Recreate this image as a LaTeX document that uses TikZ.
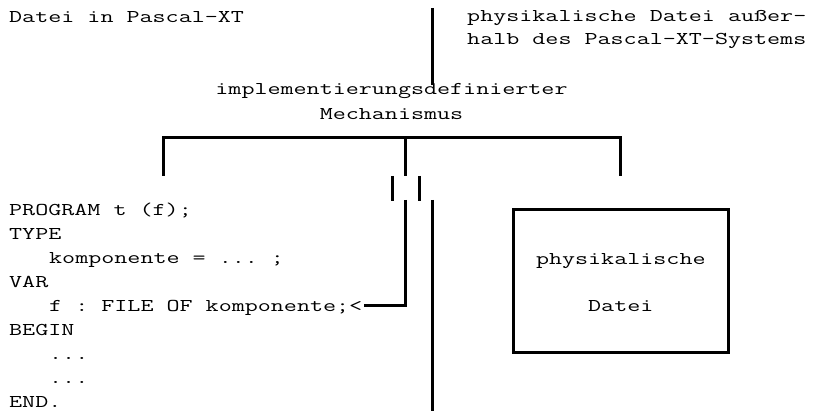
\documentclass[tikz,border=0pt]{standalone}
\usepackage{fontspec}
\newfontfamily\cf[FakeStretch=1.407]{Latin Modern Mono}
\begin{document}
\begin{tikzpicture}[x=1pt,y=-1pt,
  wire/.style={line width=3pt},
  txt/.style={font={\cf\fontsize{18}{24}\selectfont\frenchspacing}, inner sep=0pt, anchor=base west},
  ctxt/.style={txt, anchor=base}]
\useasboundingbox (0,0) rectangle (816,414);

% texts at the top
\node[txt] (title) at (9,23) {Datei in Pascal-XT};
\node[txt] (phys1) at (467,22) {physikalische Datei außer-};
\node[txt] (phys2) at (467,45) {halb des Pascal-XT-Systems};
\node[ctxt] (impl) at (391.5,95) {implementierungsdefinierter};
\node[ctxt] (mech) at (391.5,120) {Mechanismus};

% program text
\node[txt] (l1) at (9,215) {PROGRAM t (f);};
\node[txt] (l2) at (9,239) {TYPE};
\node[txt] (l3) at (49,263) {komponente = ... ;};
\node[txt] (l4) at (9,287) {VAR};
\node[txt] (l5) at (49,311) {f : FILE OF komponente;<};
\node[txt] (l6) at (9,335) {BEGIN};
\node[txt] (l7) at (49,359) {...};
\node[txt] (l8) at (49,383) {...};
\node[txt] (l9) at (9,407) {END.};

% physical file box
\node[draw, wire, minimum width=215pt, minimum height=143.4pt, inner sep=0pt] (box) at (620.8,281) {};
\node[ctxt, yshift=17pt] (bt1) at (box.center) {physikalische};
\node[ctxt, yshift=-30pt] (bt2) at (box.center) {Datei};

% separator line at the top
\coordinate (sepA) at (432,8);
\coordinate (sepB) at (432,85);
\draw[wire] (sepA) -- (sepB);

% bracket of the mechanism
\coordinate (barL) at (163,138);
\coordinate (barM) at (405,138);
\coordinate (barR) at (620,138);
\coordinate (legL) at (163,176);
\coordinate (legM) at (405,176);
\coordinate (legR) at (620,176);
\draw[wire] (legL) -- (barL) -- (barR) -- (legR);
\draw[wire] (barM) -- (legM);

% small break marks
\coordinate (k1a) at (392,176);
\coordinate (k1b) at (392,201);
\coordinate (k2a) at (419,176);
\coordinate (k2b) at (419,201);
\draw[wire] (k1a) -- (k1b);
\draw[wire] (k2a) -- (k2b);

% lower lines
\coordinate (m1) at (405,200);
\coordinate (arr) at (364,305);
\draw[wire] (m1) |- (arr);
\coordinate (r1) at (432,200);
\coordinate (r2) at (432,411);
\draw[wire] (r1) -- (r2);
\end{tikzpicture}
\end{document}
